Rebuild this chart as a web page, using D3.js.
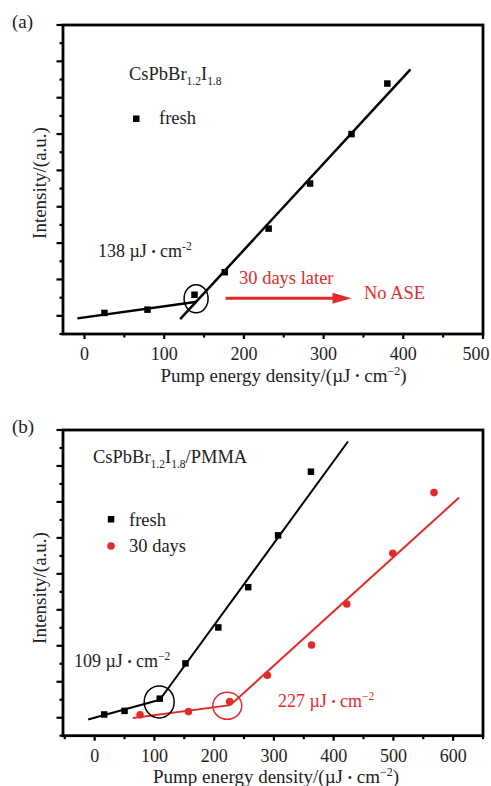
<!DOCTYPE html>
<html>
<head>
<meta charset="utf-8">
<script src="https://cdn.jsdelivr.net/npm/d3@7"></script>
<style>
  html, body { margin: 0; padding: 0; background: #fff; }
  svg { display: block; }
</style>
</head>
<body>
<svg id="chart" width="491" height="786"></svg>
<script>
// ---- Panel (a): CsPbBr1.2I1.8, fresh film ----
const pumpA = [25, 79, 138, 176, 231, 283, 335, 380];
const freshA = [0.08, 0.17, 0.58, 1.20, 2.40, 3.64, 5.00, 6.39];
// linear fits below / above threshold: [x0, x1], [y0, y1]
const fitLowA_x = [-9, 141],  fitLowA_y = [-0.07, 0.39];
const fitHighA_x = [120, 409], fitHighA_y = [-0.09, 6.78];
const thresholdA = [140, 0.47];
const arrowA_x = [177, 335], arrowA_y = 0.48;

// ---- Panel (b): CsPbBr1.2I1.8/PMMA, fresh and after 30 days ----
const pumpB_fresh = [16, 50, 109, 152, 207, 257, 307, 362];
const freshB = [0.09, 0.19, 0.53, 1.51, 2.51, 3.63, 5.07, 6.84];
const pumpB_aged = [76, 157, 226, 289, 363, 422, 499, 568];
const agedB = [0.08, 0.17, 0.45, 1.18, 2.02, 3.16, 4.57, 6.26];
const fitLowB_x = [-11, 109],  fitLowB_y = [-0.05, 0.50];
const fitHighB_x = [109, 424], fitHighB_y = [0.50, 7.68];
const fitLowB2_x = [64, 227],  fitLowB2_y = [-0.01, 0.35];
const fitHighB2_x = [227, 610], fitHighB2_y = [0.35, 6.12];
const thresholdB = [108, 0.44];
const thresholdB2 = [222, 0.33];

// axis tick values
const xTicksA = [0, 100, 200, 300, 400, 500];
const xTicksB = [0, 100, 200, 300, 400, 500, 600];

const RED = "#e52a2a";
const FONT = "'Liberation Serif','Times New Roman',serif";
const W = 491;

const svg = d3.select("#chart").style("font-family", FONT);

function zip(xs, ys) { return xs.map((x, i) => [x, ys[i]]); }

// "µJ • cm^-2" unit with a raised bullet and superscript
function unit(t, lead, sup, supSize) {
  t.append("tspan").text(lead + "\u00B5J ");
  t.append("tspan").attr("font-size", 12).attr("dy", -1.5).text("\u2022");
  t.append("tspan").attr("dy", 1.5).text(" cm");
  t.append("tspan").attr("font-size", supSize).attr("dy", -7).text(sup);
}

function panel(opt) {
  const g = svg.append("g");
  const x = d3.scaleLinear().domain(opt.xDomain).range([opt.left, opt.right]);
  const y = d3.scaleLinear().domain([-0.5, 8]).range([opt.bottom, opt.top]);

  // x axis ticks (major + minor, outward)
  const xMinor = d3.range(Math.ceil(opt.xDomain[0] / 50) * 50, opt.xDomain[1] + 0.1, 50);
  g.append("g").selectAll("line").data(xMinor).join("line")
    .attr("x1", d => x(d)).attr("x2", d => x(d))
    .attr("y1", opt.bottom).attr("y2", d => opt.bottom + (d % 100 === 0 ? 5 : 3.5))
    .attr("stroke", "#000").attr("stroke-width", 2.2);
  // tick labels; a label that would run past the right edge is kept inside it
  g.append("g").selectAll("text").data(opt.xTicks).join("text")
    .attr("x", d => Math.min(x(d), W - 15))
    .attr("y", opt.bottom + 26)
    .attr("text-anchor", "middle").attr("font-size", 18).attr("fill", "#222")
    .text(d => d);

  // y axis ticks (no labels)
  const yT = d3.range(-0.5, 8.01, 0.5);
  g.append("g").selectAll("line").data(yT).join("line")
    .attr("x1", opt.left).attr("x2", d => opt.left - (Number.isInteger(d) ? 6.5 : 3.5))
    .attr("y1", d => y(d)).attr("y2", d => y(d))
    .attr("stroke", "#000").attr("stroke-width", 2.2);

  // frame
  g.append("rect")
    .attr("x", opt.left).attr("y", opt.top)
    .attr("width", opt.right - opt.left).attr("height", opt.bottom - opt.top)
    .attr("fill", "none").attr("stroke", "#000").attr("stroke-width", 2.8);

  // axis titles
  const xt = g.append("text")
    .attr("x", opt.xTitleX).attr("y", opt.bottom + 47.5)
    .attr("text-anchor", "middle").attr("font-size", 19).attr("fill", "#222");
  xt.append("tspan").text("Pump energy density/(");
  unit(xt, "", "\u22122", 12);
  xt.append("tspan").attr("dy", 7).text(")");

  g.append("text")
    .attr("transform", `translate(46,${opt.yTitleY}) rotate(-90)`)
    .attr("text-anchor", "middle").attr("font-size", 19).attr("fill", "#222")
    .text("Intensity/(a.u.)");

  // panel letter
  g.append("text").attr("x", 12).attr("y", opt.top + 3)
    .attr("font-size", 19).attr("fill", "#222").text(opt.letter);

  return { g, x, y };
}

function fitLine(p, xs, ys, color, w) {
  p.g.append("path")
    .datum(zip(xs, ys))
    .attr("d", d3.line().x(d => p.x(d[0])).y(d => p.y(d[1])))
    .attr("fill", "none").attr("stroke", color).attr("stroke-width", w);
}

function squares(p, xs, ys, size) {
  p.g.append("g").selectAll("rect").data(zip(xs, ys)).join("rect")
    .attr("x", d => p.x(d[0]) - size / 2).attr("y", d => p.y(d[1]) - size / 2)
    .attr("width", size).attr("height", size).attr("fill", "#000");
}

function dots(p, xs, ys, r, color) {
  p.g.append("g").selectAll("circle").data(zip(xs, ys)).join("circle")
    .attr("cx", d => p.x(d[0])).attr("cy", d => p.y(d[1]))
    .attr("r", r).attr("fill", color);
}

function ring(p, c, rx, ry, color) {
  p.g.append("ellipse")
    .attr("cx", p.x(c[0])).attr("cy", p.y(c[1]))
    .attr("rx", rx).attr("ry", ry)
    .attr("fill", "none").attr("stroke", color).attr("stroke-width", 1.5);
}

function formula(g, xPos, yPos, tail) {
  const t = g.append("text").attr("x", xPos).attr("y", yPos)
    .attr("font-size", 18.5).attr("fill", "#222");
  t.append("tspan").text("CsPbBr");
  t.append("tspan").attr("font-size", 11.5).attr("dy", 5).text("1.2");
  t.append("tspan").attr("dy", -5).text("I");
  t.append("tspan").attr("font-size", 11.5).attr("dy", 5).text("1.8");
  if (tail) t.append("tspan").attr("dy", -5).text(tail);
}

function fluence(g, xPos, yPos, val, sup, color) {
  const t = g.append("text").attr("x", xPos).attr("y", yPos)
    .attr("font-size", 18).attr("fill", color);
  t.append("tspan").text(val);
  unit(t, " ", sup, 11.5);
}

// ================= Panel (a) =================
const pA = panel({
  letter: "(a)", left: 63, right: 483, top: 25, bottom: 334,
  xDomain: [-27, 500], xTicks: xTicksA, xTitleX: 283.5, yTitleY: 183
});
fitLine(pA, fitLowA_x, fitLowA_y, "#000", 2.5);
fitLine(pA, fitHighA_x, fitHighA_y, "#000", 2.5);
squares(pA, pumpA, freshA, 6.5);
ring(pA, thresholdA, 12, 14, "#000");

formula(pA.g, 129, 80, null);
pA.g.append("rect").attr("x", 133).attr("y", 115.5).attr("width", 6.5).attr("height", 6.5).attr("fill", "#000");
pA.g.append("text").attr("x", 159).attr("y", 124).attr("font-size", 18.5).attr("fill", "#222").text("fresh");
fluence(pA.g, 98, 257, 138, "-2", "#222");

// "30 days later" arrow
const ay = pA.y(arrowA_y);
pA.g.append("line")
  .attr("x1", pA.x(arrowA_x[0])).attr("x2", pA.x(arrowA_x[1]) - 14)
  .attr("y1", ay).attr("y2", ay)
  .attr("stroke", RED).attr("stroke-width", 3);
pA.g.append("path")
  .attr("d", `M${pA.x(arrowA_x[1])},${ay} L${pA.x(arrowA_x[1]) - 19},${ay - 5.5} L${pA.x(arrowA_x[1]) - 19},${ay + 5.5} Z`)
  .attr("fill", RED);
pA.g.append("text").attr("x", 239).attr("y", 284).attr("font-size", 18.5).attr("fill", RED).text("30 days later");
pA.g.append("text").attr("x", 364).attr("y", 299).attr("font-size", 18.5).attr("fill", RED).text("No ASE");

// ================= Panel (b) =================
const pB = panel({
  letter: "(b)", left: 63, right: 483, top: 430, bottom: 735.7,
  xDomain: [-53, 650], xTicks: xTicksB, xTitleX: 276, yTitleY: 588
});
fitLine(pB, fitLowB_x, fitLowB_y, "#000", 2);
fitLine(pB, fitHighB_x, fitHighB_y, "#000", 2);
fitLine(pB, fitLowB2_x, fitLowB2_y, RED, 2);
fitLine(pB, fitHighB2_x, fitHighB2_y, RED, 2);
squares(pB, pumpB_fresh, freshB, 6.5);
dots(pB, pumpB_aged, agedB, 3.8, RED);
ring(pB, thresholdB, 15, 16, "#000");
ring(pB, thresholdB2, 14.5, 13.5, RED);

formula(pB.g, 93, 463, "/PMMA");
pB.g.append("rect").attr("x", 107.8).attr("y", 516).attr("width", 6.5).attr("height", 6.5).attr("fill", "#000");
pB.g.append("text").attr("x", 129).attr("y", 526).attr("font-size", 18.5).attr("fill", "#222").text("fresh");
pB.g.append("circle").attr("cx", 111).attr("cy", 546).attr("r", 3.8).attr("fill", RED);
pB.g.append("text").attr("x", 129).attr("y", 552).attr("font-size", 18.5).attr("fill", "#222").text("30 days");
fluence(pB.g, 74, 667, 109, "\u22122", "#222");
fluence(pB.g, 278, 707, 227, "\u22122", RED);
</script>
</body>
</html>
